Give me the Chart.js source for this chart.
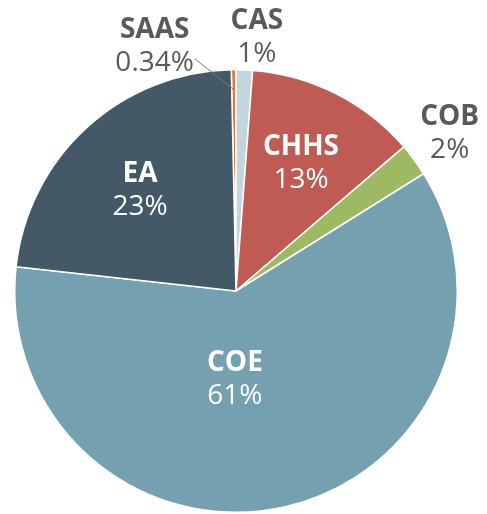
<!DOCTYPE html>
<html>
<head>
<meta charset="utf-8">
<script src="https://cdn.jsdelivr.net/npm/chart.js@4.4.1/dist/chart.umd.min.js"></script>
<style>
html,body{margin:0;padding:0;background:#fff;}
#wrap{width:487px;height:514px;position:relative;}
</style>
</head>
<body>
<div id="wrap"><canvas id="c" width="487" height="514"></canvas></div>
<script>
const categories = ["SAAS", "CAS", "CHHS", "COB", "COE", "EA"];
const values = [0.34, 1.2, 12.5, 2.4, 60.6, 22.9];
const valueLabels = ["0.34%", "1%", "13%", "2%", "61%", "23%"];
const colors = ["#e8782a", "#c3d6de", "#bf5b52", "#9dba63", "#74a0b0", "#435967"];

// label layout: angle (deg clockwise from top) and radius fraction, text color
const labelLayout = [
  {a: -18.4, r: 1.165, color: "#5a5a5a"},
  {a: 4.7, r: 1.15, color: "#5a5a5a"},
  {a: 27, r: 0.647, color: "#ffffff"},
  {a: 53.6, r: 1.2, color: "#5a5a5a"},
  {a: 180.7, r: 0.40, color: "#ffffff"},
  {a: 316.5, r: 0.63, color: "#ffffff"}
];

const labelPlugin = {
  id: 'sliceLabels',
  afterDatasetsDraw(chart) {
    const ctx = chart.ctx;
    const meta = chart.getDatasetMeta(0);
    const arc0 = meta.data[0];
    const cx = arc0.x, cy = arc0.y, R = arc0.outerRadius;
    ctx.save();
    // leader line for SAAS
    const saas = meta.data[0];
    const mid = (saas.startAngle + saas.endAngle) / 2;
    ctx.strokeStyle = "#7a7a7a";
    ctx.lineWidth = 1;
    ctx.beginPath();
    ctx.moveTo(cx + Math.cos(mid) * R * 0.91, cy + Math.sin(mid) * R * 0.91);
    ctx.lineTo(cx - 41, cy - 232);
    ctx.stroke();
    ctx.textAlign = 'center';
    ctx.textBaseline = 'middle';
    categories.forEach((cat, i) => {
      const L = labelLayout[i];
      const ang = (L.a - 90) * Math.PI / 180;
      const x = cx + Math.cos(ang) * R * L.r;
      const y = cy + Math.sin(ang) * R * L.r;
      ctx.fillStyle = L.color;
      ctx.font = "bold 28px 'Open Sans'";
      ctx.fillText(cat, x, y - 16);
      ctx.font = "28px 'Open Sans'";
      ctx.fillText(valueLabels[i], x, y + 17);
    });
    ctx.restore();
  }
};

new Chart(document.getElementById('c'), {
  type: 'pie',
  data: {
    labels: categories,
    datasets: [{
      data: values,
      backgroundColor: colors,
      borderColor: '#ffffff',
      borderWidth: 1.5
    }]
  },
  options: {
    responsive: false,
    animation: false,
    rotation: -values[0] * 3.6,
    layout: {padding: {left: 14, right: 29, top: 69, bottom: 1}},
    plugins: {legend: {display: false}, tooltip: {enabled: false}}
  },
  plugins: [labelPlugin]
});
</script>
</body>
</html>
